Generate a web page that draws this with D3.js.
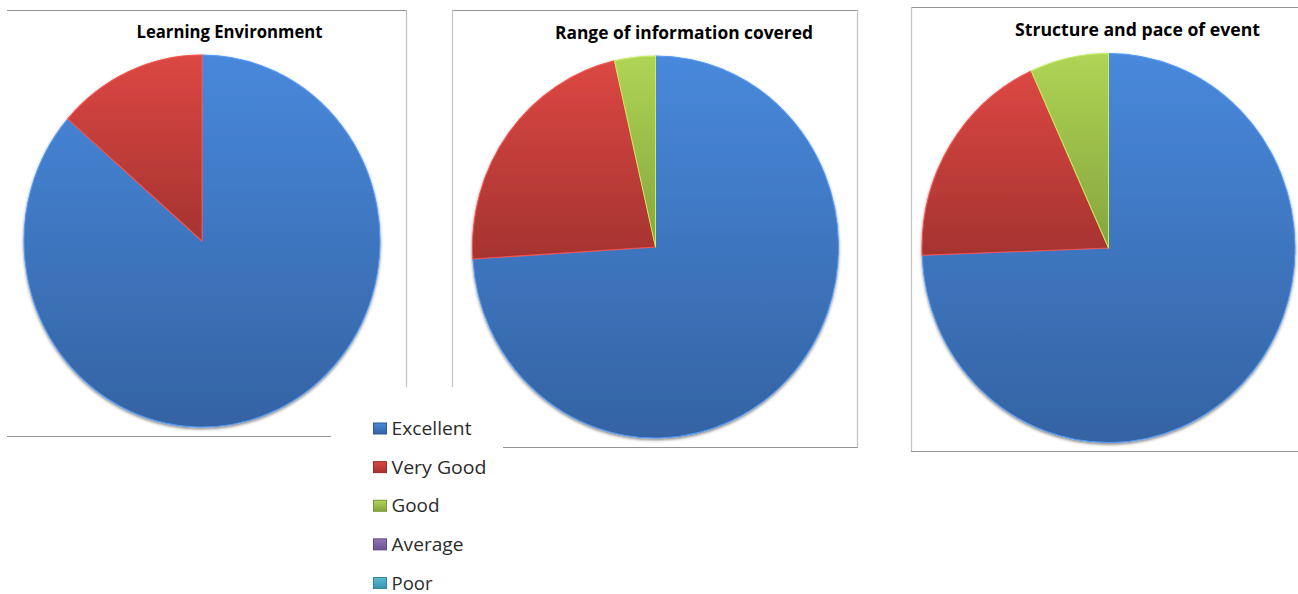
<!DOCTYPE html>
<html>
<head>
<meta charset="utf-8">
<script src="https://cdn.jsdelivr.net/npm/d3@7"></script>
<style>
  html, body { margin: 0; padding: 0; background: #fff; }
  svg { display: block; }
</style>
</head>
<body>
<svg id="chart" width="1298" height="594"></svg>
<script>
// Feedback survey: share of responses per rating, one pie per question
const categories = ["Excellent", "Very Good", "Good", "Average", "Poor"];
const titles = ["Learning Environment", "Range of information covered", "Structure and pace of event"];
const learningEnvironment = [86.4, 13.6, 0, 0, 0];
const rangeOfInformation = [74, 22.4, 3.6, 0, 0];
const structureAndPace = [74.4, 18.8, 6.8, 0, 0];
const seriesValues = [learningEnvironment, rangeOfInformation, structureAndPace];

// Fill ramps (top, bottom) for each rating
const palette = [
  ["#4888db", "#3463a3"],
  ["#dc4743", "#a5332f"],
  ["#afd455", "#86a53d"],
  ["#9277b8", "#6a5090"],
  ["#5bbcd6", "#3a93ac"]
];

const svg = d3.select("#chart");
const defs = svg.append("defs");

palette.forEach((c, i) => {
  const g = defs.append("linearGradient")
    .attr("id", "grad" + i)
    .attr("x1", 0).attr("y1", 0).attr("x2", 0).attr("y2", 1);
  g.append("stop").attr("offset", "0%").attr("stop-color", c[0]);
  g.append("stop").attr("offset", "100%").attr("stop-color", c[1]);
});

const shadow = defs.append("filter").attr("id", "pieShadow")
  .attr("x", "-10%").attr("y", "-10%").attr("width", "120%").attr("height", "120%");
shadow.append("feDropShadow")
  .attr("dx", 0).attr("dy", 1.5).attr("stdDeviation", 1.7)
  .attr("flood-color", "#000").attr("flood-opacity", 0.5);

// Panel frames (partial borders, as laid out on the slide)
const frameH = "#959595", frameV = "#c2c2c2";
const frames = [
  { lines: [[7, 10.5, 406.5, 10.5, frameH], [406.5, 10, 406.5, 387, frameV], [7, 436.5, 331, 436.5, frameH]] },
  { lines: [[452, 10.5, 857.5, 10.5, frameH], [452.5, 10, 452.5, 387, frameV], [857.5, 10, 857.5, 448, frameV], [503, 447.5, 857.5, 447.5, frameH]] },
  { lines: [[911, 7.5, 1298, 7.5, frameH], [911.5, 7, 911.5, 452, frameV], [911, 451.5, 1298, 451.5, frameH]] }
];
frames.forEach(f => f.lines.forEach(l => {
  svg.append("line")
    .attr("x1", l[0]).attr("y1", l[1]).attr("x2", l[2]).attr("y2", l[3])
    .attr("stroke", l[4]).attr("stroke-width", 1.2);
}));

// Pie layout per panel
const panels = [
  { cx: 202, cy: 241, rx: 178, ry: 186, tx: 229.5, ty: 38, tw: 186 },
  { cx: 655.5, cy: 247, rx: 183, ry: 191, tx: 684, ty: 38.5, tw: 258 },
  { cx: 1108.5, cy: 248, rx: 186.5, ry: 194.5, tx: 1137.5, ty: 35.5, tw: 245 }
];

const pie = d3.pie().sort(null).value(d => d.value);

panels.forEach((p, k) => {
  const data = categories.map((c, i) => ({ category: c, index: i, value: seriesValues[k][i] }));
  const arc = d3.arc().innerRadius(0).outerRadius(p.rx);

  const g = svg.append("g")
    .attr("transform", `translate(${p.cx},${p.cy}) scale(1,${p.ry / p.rx})`)
    .attr("filter", "url(#pieShadow)");

  g.selectAll("path")
    .data(pie(data).filter(d => d.data.value > 0))
    .join("path")
    .attr("d", arc)
    .attr("fill", d => `url(#grad${d.data.index})`)
    .attr("stroke", d => d3.color(palette[d.data.index][0]).brighter(0.35))
    .attr("stroke-width", 1)
    .attr("stroke-linejoin", "round");

  svg.append("text")
    .attr("x", p.tx).attr("y", p.ty)
    .attr("text-anchor", "middle")
    .attr("font-family", "'Open Sans', 'Noto Sans', sans-serif")
    .attr("font-weight", 700)
    .attr("font-size", 17.5)
    .attr("fill", "#000")
    .attr("textLength", p.tw)
    .attr("lengthAdjust", "spacingAndGlyphs")
    .text(titles[k]);
});

// Legend
const legendWidths = [80, 95, 48, 72, 41];
const legendY = d3.scalePoint().domain(categories).range([428.5, 583]);
const legend = svg.append("g");
const items = legend.selectAll("g")
  .data(categories)
  .join("g")
  .attr("transform", d => `translate(0,${legendY(d)})`);

items.append("rect")
  .attr("x", 373.5).attr("y", -5.5)
  .attr("width", 13).attr("height", 11)
  .attr("fill", (d, i) => `url(#grad${i})`)
  .attr("stroke", (d, i) => d3.color(palette[i][1]).darker(0.3))
  .attr("stroke-width", 1);

items.append("text")
  .attr("x", 391.5).attr("y", 6.5)
  .attr("font-family", "'Open Sans', 'Noto Sans', sans-serif")
  .attr("font-size", 17.5)
  .attr("fill", "#2b2b2b")
  .attr("textLength", (d, i) => legendWidths[i])
  .attr("lengthAdjust", "spacingAndGlyphs")
  .text(d => d);
</script>
</body>
</html>
